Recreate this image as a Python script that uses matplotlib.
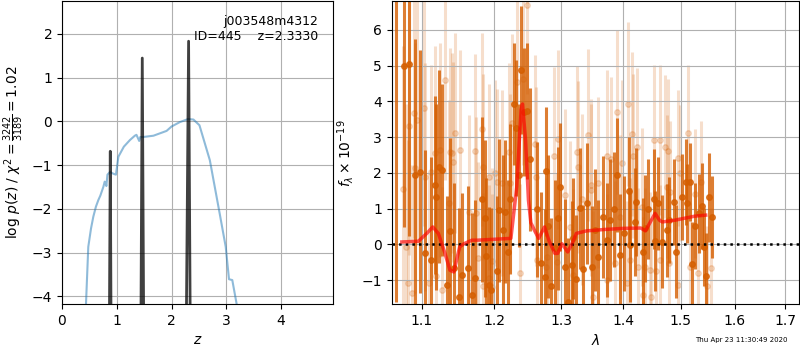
import matplotlib
matplotlib.use("Agg")
import matplotlib.pyplot as plt
from matplotlib.ticker import FixedLocator, FixedFormatter, NullLocator

# ---- p(z) panel ----
z_coarse = [0.40, 0.438, 0.48, 0.53, 0.572, 0.62, 0.664, 0.70, 0.755, 0.78, 0.80, 0.81,
            0.83, 0.845, 0.876, 0.94, 0.985, 1.03, 1.13, 1.24, 1.33, 1.36, 1.41, 1.43,
            1.48, 1.67, 1.91, 2.0, 2.15, 2.30, 2.40, 2.51, 2.70, 2.88, 2.99, 3.05, 3.11,
            3.19, 3.25]
logp_coarse = [-5.0, -4.18, -2.87, -2.45, -2.18, -1.95, -1.80, -1.70, -1.50, -1.38, -1.42,
               -1.48, -1.22, -1.20, -1.16, -1.20, -1.22, -0.81, -0.58, -0.43, -0.33, -0.31,
               -0.45, -0.36, -0.36, -0.33, -0.22, -0.12, -0.02, 0.05, 0.04, -0.09, -0.89,
               -2.11, -2.87, -3.61, -3.63, -4.18, -4.60]

z_fine = [0.86, 0.882, 0.90, 1.436, 1.466, 1.497, 2.262, 2.312, 2.348]
logp_fine = [-6.0, -0.685, -6.0, -6.0, 1.445, -6.0, -6.0, 1.83, -6.0]

# ---- spectrum panel ----
dark_wave = [1.066, 1.077, 1.0838, 1.0908, 1.0978, 1.1047, 1.1127, 1.1173, 1.1194, 1.123,
             1.127, 1.1338, 1.1384, 1.1439, 1.1498, 1.1544, 1.1628, 1.1683, 1.1729, 1.1824,
             1.1866, 1.1885, 1.192, 1.1957, 1.2043, 1.2072, 1.212, 1.216, 1.22, 1.2233,
             1.2282, 1.2316, 1.2356, 1.2394, 1.243, 1.248, 1.2528, 1.2625, 1.269, 1.275,
             1.2766, 1.280, 1.2848, 1.2904, 1.2956, 1.2982, 1.306, 1.3112, 1.3165, 1.318,
             1.3234, 1.3297, 1.334, 1.3414, 1.3485, 1.3538, 1.3592, 1.3674, 1.373, 1.3784,
             1.3856, 1.3906, 1.395, 1.4023, 1.4096, 1.4119, 1.4204, 1.422, 1.4334, 1.4374,
             1.4425, 1.453, 1.4547, 1.4606, 1.4665, 1.4754, 1.480, 1.488, 1.492, 1.503,
             1.509, 1.512, 1.517, 1.521, 1.526, 1.533, 1.538, 1.542, 1.546, 1.551, 1.558]
dark_flux = [7.2, 4.99, 5.05, 1.94, 2.03, -0.25, -0.44, 1.66, 1.33, 2.17,
             2.08, -1.14, 0.37, -0.67, -1.47, -0.86, -0.67, -1.42, -0.95, 1.26,
             0.73, -0.33, -1.14, -1.28, -0.74, 0.96, 0.40, 0.91, -0.21, 1.26,
             3.93, 3.25, 1.94, 4.88, 3.71, 3.74, 2.38, 0.98, -0.53, -0.92,
             2.05, 0.51, -1.17, -0.11, 0.73, 1.61, -0.63, -1.61, -0.58, 0.17,
             -0.98, 1.01, -0.70, 1.15, -0.63, 0.40, -0.35, 0.77, 0.12, 0.68,
             0.98, 1.94, -0.30, 0.31, 1.50, -0.02, 0.63, 1.19, -0.21, 0.45,
             0.98, 1.26, 0.10, 1.15, 0.08, 0.40, 0.68, 1.19, -0.20, 1.32,
             1.75, 1.15, 1.75, -0.56, 0.51, 0.87, 1.08, -0.07, -0.89, 1.32, 0.76]
dark_err = [8.8, 4.5, 4.8, 3.8, 3.4, 2.9, 2.9, 2.5, 2.6, 2.7,
            2.4, 2.5, 2.6, 2.4, 2.5, 2.3, 2.3, 2.3, 2.2, 2.3,
            2.2, 2.2, 2.2, 2.3, 2.1, 2.0, 2.1, 2.0, 2.0, 2.1,
            1.7, 1.9, 2.0, 1.8, 1.8, 1.9, 2.0, 1.9, 2.0, 1.9,
            1.8, 2.0, 1.9, 1.9, 2.0, 1.8, 1.9, 1.8, 1.8, 1.7,
            1.8, 1.7, 1.8, 1.7, 1.7, 1.7, 1.6, 1.7, 1.6, 1.7,
            1.6, 1.6, 1.7, 1.6, 1.5, 1.6, 1.5, 1.5, 1.5, 1.5,
            1.4, 1.4, 1.4, 1.3, 1.3, 1.3, 1.2, 1.2, 1.3, 1.2,
            1.2, 1.1, 1.1, 1.2, 1.2, 1.1, 1.2, 1.1, 1.2, 1.25, 1.15]

light_wave = [1.0756, 1.0795, 1.082, 1.0838, 1.0873, 1.0903, 1.0916, 1.0938, 1.1034, 1.1047,
              1.1093, 1.1127, 1.118, 1.1195, 1.1248, 1.127, 1.1316, 1.137, 1.1384, 1.1403,
              1.142, 1.1443, 1.152, 1.1637, 1.1729, 1.1735, 1.1764, 1.1824, 1.183, 1.1835,
              1.192, 1.1925, 1.1966, 1.1972, 1.2006, 1.2042, 1.2111, 1.2208, 1.2225, 1.2257,
              1.2331, 1.2375, 1.2415, 1.2475, 1.26, 1.2615, 1.2625, 1.2766, 1.2777, 1.2889,
              1.293, 1.2956, 1.306, 1.3139, 1.3186, 1.3245, 1.327, 1.3325, 1.3421, 1.3469,
              1.3474, 1.3508, 1.3592, 1.373, 1.3735, 1.3796, 1.3866, 1.3906, 1.395, 1.3978,
              1.4063, 1.408, 1.412, 1.4147, 1.416, 1.4232, 1.4259, 1.4317, 1.4345, 1.4374,
              1.4455, 1.448, 1.453, 1.4565, 1.4635, 1.464, 1.4723, 1.4754, 1.477, 1.4785,
              1.4812, 1.4948, 1.496, 1.499, 1.514, 1.5162, 1.5262, 1.5322, 1.5373, 1.5487,
              1.5562]
light_flux = [1.54, -0.07, -1.09, 3.31, -1.37, 3.67, 2.13, 3.48, 3.81, 1.89,
              -1.09, 2.03, 2.55, -0.89, 2.64, -1.28, 4.60, 1.15, 2.59, 2.55,
              2.31, 3.11, 2.64, 0.91, 2.62, 0.87, -0.39, 3.22, 2.17, -1.16,
              1.89, -0.95, -0.46, -1.19, 1.99, 1.75, 1.71, 2.59, 1.71, 3.39,
              4.55, -0.81, 4.62, 6.70, 2.81, 1.90, -0.44, -0.63, -0.36, 2.47,
              -0.49, 2.94, 1.38, 0.49, -0.86, 2.59, 2.16, 1.26, 3.06, 1.52,
              1.66, -1.47, 1.73, 2.47, -1.0, 2.38, -0.53, 3.71, 0.77, 2.29,
              -1.09, 3.93, -0.44, 3.09, 2.47, 2.73, -0.63, 1.05, -1.42, -0.63,
              -0.72, -1.47, 2.92, -0.74, 2.92, -0.44, 2.73, 1.61, 2.62, -0.53,
              1.46, 2.41, -1.14, 2.0, 3.13, -0.63, 1.42, -0.81, 1.75, -1.17,
              -0.67]
light_err = [4.0, 4.0, 4.0, 3.6, 3.6, 3.5, 3.5, 3.5, 3.3, 3.2,
             3.1, 3.0, 3.0, 3.0, 3.0, 2.9, 2.8, 2.9, 2.9, 2.8,
             2.8, 2.8, 2.8, 2.7, 2.7, 2.7, 2.7, 2.7, 2.6, 2.6,
             2.6, 2.6, 2.6, 2.6, 2.6, 2.6, 2.6, 2.5, 2.5, 2.5,
             2.4, 2.5, 2.4, 2.5, 2.5, 2.5, 2.5, 2.5, 2.5, 2.5,
             2.5, 2.5, 2.4, 2.4, 2.4, 2.4, 2.4, 2.4, 2.4, 2.4,
             2.4, 2.4, 2.4, 2.4, 2.4, 2.3, 2.3, 2.3, 2.3, 2.3,
             2.3, 2.3, 2.3, 2.3, 2.3, 2.2, 2.2, 2.2, 2.2, 2.2,
             2.2, 2.2, 2.1, 2.1, 2.1, 2.1, 2.0, 2.0, 2.0, 2.0,
             2.0, 1.9, 1.9, 1.9, 1.9, 1.8, 1.8, 1.8, 1.7, 1.7,
             1.7]

model_wave = [1.074, 1.0955, 1.1066, 1.1145, 1.122, 1.131, 1.1377, 1.143, 1.151, 1.157,
              1.168, 1.176, 1.2239, 1.2325, 1.2389, 1.241, 1.2456, 1.2499, 1.2535, 1.2588,
              1.2653, 1.2742, 1.2808, 1.29, 1.2944, 1.3011, 1.3101, 1.3169, 1.3237, 1.34,
              1.37, 1.40, 1.43, 1.438, 1.4547, 1.4622, 1.4673, 1.49, 1.525, 1.5456]
model_flux = [0.07, 0.09, 0.31, 0.49, 0.31, -0.25, -0.72, -0.77, -0.07, 0.02,
              0.12, 0.12, 0.17, 1.61, 3.76, 3.93, 2.92, 1.24, 0.61, 0.40,
              0.17, 0.49, 0.12, -0.25, -0.25, 0.02, -0.21, 0.02, 0.31, 0.38,
              0.42, 0.45, 0.46, 0.38, 0.87, 0.68, 0.63, 0.68, 0.79, 0.82]

wave_ticks = [1.1, 1.2, 1.3, 1.4, 1.5, 1.6, 1.7]
grism_color = (0.835, 0.369, 0.0)

fig = plt.figure(figsize=(8, 3.5), dpi=100)
ax1 = fig.add_axes([0.0775, 0.131, 0.3388, 0.865])
ax2 = fig.add_axes([0.4896, 0.131, 0.5089, 0.865])

# left: p(z)
ax1.plot(z_coarse, logp_coarse, color='C0', alpha=0.5, lw=1.5)
ax1.plot(z_fine, logp_fine, color='k', alpha=0.75, lw=2)
ax1.set_xlim(0, 4.95)
ax1.set_ylim(-4.18, 2.74)
ax1.set_xticks([0, 1, 2, 3, 4])
ax1.set_yticks([-4, -3, -2, -1, 0, 1, 2])
ax1.grid()
ax1.set_xlabel(r'$z$')
ax1.set_ylabel(r'log $p(z)$ / $\chi^2=\frac{3242}{3189}=1.02$')
ax1.text(0.945, 0.955, 'j003548m4312\nID=445    z=2.3330', ha='right', va='top',
         transform=ax1.transAxes, fontsize=9)

# right: spectrum
ax2.errorbar(light_wave, light_flux, yerr=light_err, fmt='o', color=grism_color,
             alpha=0.2, ms=4, elinewidth=2.2, zorder=1)
ax2.errorbar(dark_wave, dark_flux, yerr=dark_err, fmt='o', color=grism_color,
             alpha=0.8, ms=4, elinewidth=2.2, zorder=2)
ax2.axhline(0, color='k', linestyle=':', lw=1.8, zorder=3)
ax2.plot(model_wave, model_flux, color='r', alpha=0.65, lw=2.5, zorder=4)
ax2.set_xscale('log')
ax2.set_xlim(1.061, 1.728)
ax2.set_ylim(-1.67, 6.8)
ax2.xaxis.set_major_locator(FixedLocator(wave_ticks))
ax2.xaxis.set_major_formatter(FixedFormatter([str(t) for t in wave_ticks]))
ax2.xaxis.set_minor_locator(NullLocator())
ax2.set_yticks([-1, 0, 1, 2, 3, 4, 5, 6])
ax2.grid()
ax2.set_xlabel(r'$\lambda$')
ax2.set_ylabel(r'$f_\lambda\times10^{-19}$')

fig.text(0.984, 0.028, 'Thu Apr 23 11:30:49 2020', ha='right', va='center', fontsize=5)

fig.savefig('out.png', dpi=100)
